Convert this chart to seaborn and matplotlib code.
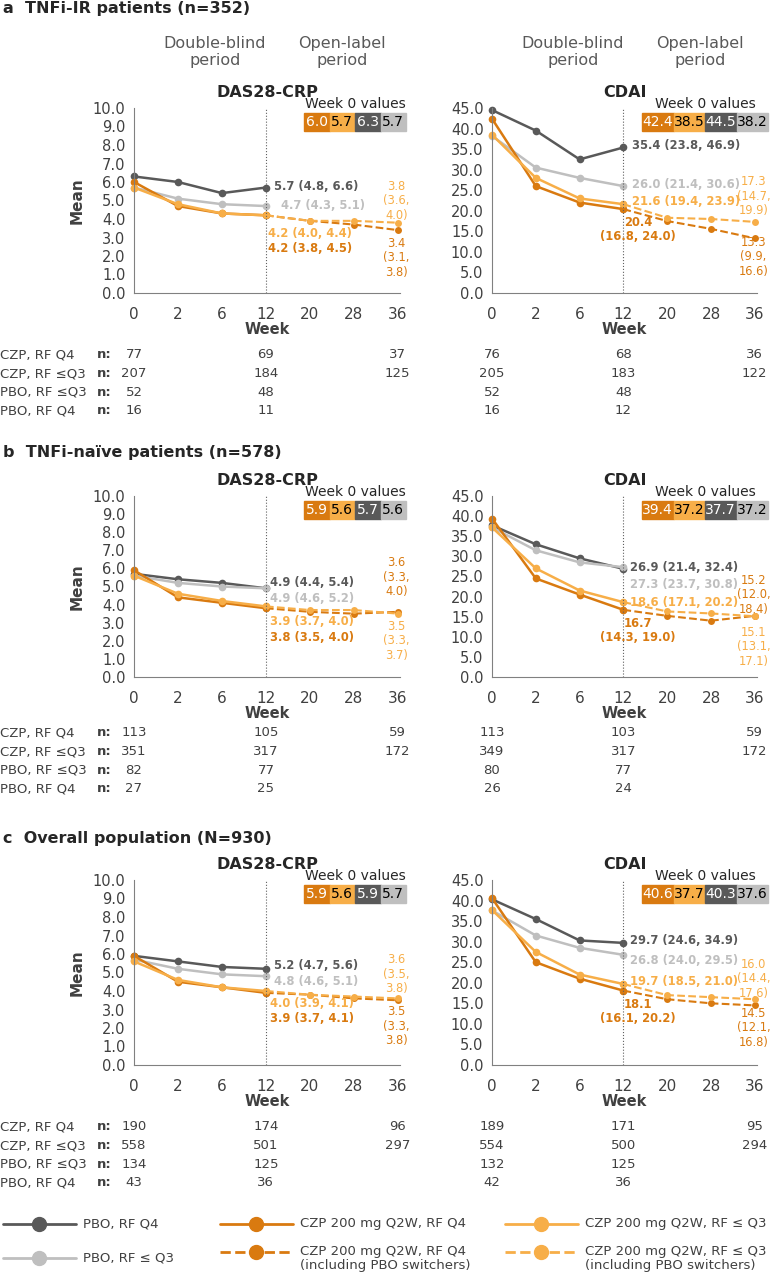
import numpy as np
import pandas as pd
import matplotlib
matplotlib.use("Agg")
import matplotlib.pyplot as plt
import matplotlib.transforms as mtransforms
from matplotlib.lines import Line2D
import seaborn as sns

sns.set_style("white")
plt.rcParams['font.family'] = ['DejaVu Sans']

weeks = [0, 2, 6, 12, 20, 28, 36]
dbl_weeks = [0, 2, 6, 12]
ol_weeks = [12, 20, 28, 36]

C_PQ4 = "#595959"
C_PQ3 = "#BFBFBF"
C_CQ4 = "#D97A10"
C_CQ3 = "#F7AE48"
TXT = "#404040"

# ---- data: mean values ----
a_das = dict(pq4=[6.3, 6.0, 5.4, 5.7], pq3=[5.7, 5.1, 4.8, 4.7],
             cq4=[6.0, 4.7, 4.3, 4.2], cq4_ol=[4.2, 3.9, 3.7, 3.4],
             cq3=[5.7, 4.8, 4.3, 4.2], cq3_ol=[4.2, 3.9, 3.9, 3.8])
a_cdai = dict(pq4=[44.5, 39.5, 32.5, 35.4], pq3=[38.2, 30.5, 28.0, 26.0],
              cq4=[42.4, 26.0, 22.0, 20.4], cq4_ol=[20.4, 17.5, 15.6, 13.3],
              cq3=[38.5, 28.0, 23.0, 21.6], cq3_ol=[21.6, 18.3, 18.0, 17.3])
b_das = dict(pq4=[5.7, 5.4, 5.2, 4.9], pq3=[5.6, 5.2, 5.0, 4.9],
             cq4=[5.9, 4.4, 4.1, 3.8], cq4_ol=[3.8, 3.6, 3.5, 3.6],
             cq3=[5.6, 4.6, 4.2, 3.9], cq3_ol=[3.9, 3.7, 3.7, 3.5])
b_cdai = dict(pq4=[37.7, 33.0, 29.5, 26.9], pq3=[37.2, 31.5, 28.5, 27.3],
              cq4=[39.4, 24.5, 20.5, 16.7], cq4_ol=[16.7, 15.2, 14.0, 15.2],
              cq3=[37.2, 27.0, 21.5, 18.6], cq3_ol=[18.6, 16.3, 15.8, 15.1])
c_das = dict(pq4=[5.9, 5.6, 5.3, 5.2], pq3=[5.7, 5.2, 4.9, 4.8],
             cq4=[5.9, 4.5, 4.2, 3.9], cq4_ol=[3.9, 3.8, 3.6, 3.5],
             cq3=[5.6, 4.6, 4.2, 4.0], cq3_ol=[4.0, 3.8, 3.7, 3.6])
c_cdai = dict(pq4=[40.3, 35.5, 30.3, 29.7], pq3=[37.6, 31.5, 28.5, 26.8],
              cq4=[40.6, 25.0, 21.0, 18.1], cq4_ol=[18.1, 16.0, 15.0, 14.5],
              cq3=[37.7, 27.5, 22.0, 19.7], cq3_ol=[19.7, 17.0, 16.5, 16.0])

# week 0 boxes (CZP Q4, CZP <=Q3, PBO Q4, PBO <=Q3)
w0 = {"a_das": ["6.0", "5.7", "6.3", "5.7"], "a_cdai": ["42.4", "38.5", "44.5", "38.2"],
      "b_das": ["5.9", "5.6", "5.7", "5.6"], "b_cdai": ["39.4", "37.2", "37.7", "37.2"],
      "c_das": ["5.9", "5.6", "5.9", "5.7"], "c_cdai": ["40.6", "37.7", "40.3", "37.6"]}

# endpoint labels: (x index, y, text, color, bold, ha)
labels = {
 "a_das": [(3.18, 5.75, "5.7 (4.8, 6.6)", C_PQ4, True, "left"),
           (3.35, 4.75, "4.7 (4.3, 5.1)", C_PQ3, True, "left"),
           (3.05, 3.2, "4.2 (4.0, 4.4)", C_CQ3, True, "left"),
           (3.05, 2.4, "4.2 (3.8, 4.5)", C_CQ4, True, "left"),
           (5.97, 5.0, "3.8\n(3.6,\n4.0)", C_CQ3, False, "center"),
           (5.97, 1.9, "3.4\n(3.1,\n3.8)", C_CQ4, False, "center")],
 "a_cdai": [(3.2, 35.8, "35.4 (23.8, 46.9)", C_PQ4, True, "left"),
            (3.2, 26.4, "26.0 (21.4, 30.6)", C_PQ3, True, "left"),
            (3.2, 22.3, "21.6 (19.4, 23.9)", C_CQ3, True, "left"),
            (3.33, 15.5, "20.4\n(16.8, 24.0)", C_CQ4, True, "center"),
            (5.97, 23.5, "17.3\n(14.7,\n19.9)", C_CQ3, False, "center"),
            (5.97, 8.8, "13.3\n(9.9,\n16.6)", C_CQ4, False, "center")],
 "b_das": [(3.1, 5.2, "4.9 (4.4, 5.4)", C_PQ4, True, "left"),
           (3.1, 4.35, "4.9 (4.6, 5.2)", C_PQ3, True, "left"),
           (3.1, 3.05, "3.9 (3.7, 4.0)", C_CQ3, True, "left"),
           (3.1, 2.2, "3.8 (3.5, 4.0)", C_CQ4, True, "left"),
           (5.97, 5.5, "3.6\n(3.3,\n4.0)", C_CQ4, False, "center"),
           (5.97, 2.0, "3.5\n(3.3,\n3.7)", C_CQ3, False, "center")],
 "b_cdai": [(3.15, 27.3, "26.9 (21.4, 32.4)", C_PQ4, True, "left"),
            (3.15, 23.0, "27.3 (23.7, 30.8)", C_PQ3, True, "left"),
            (3.15, 18.6, "18.6 (17.1, 20.2)", C_CQ3, True, "left"),
            (3.33, 11.5, "16.7\n(14.3, 19.0)", C_CQ4, True, "center"),
            (5.97, 20.5, "15.2\n(12.0,\n18.4)", C_CQ4, False, "center"),
            (5.97, 7.5, "15.1\n(13.1,\n17.1)", C_CQ3, False, "center")],
 "c_das": [(3.18, 5.4, "5.2 (4.7, 5.6)", C_PQ4, True, "left"),
           (3.18, 4.5, "4.8 (4.6, 5.1)", C_PQ3, True, "left"),
           (3.1, 3.3, "4.0 (3.9, 4.1)", C_CQ3, True, "left"),
           (3.1, 2.5, "3.9 (3.7, 4.1)", C_CQ4, True, "left"),
           (5.97, 4.9, "3.6\n(3.5,\n3.8)", C_CQ3, False, "center"),
           (5.97, 2.1, "3.5\n(3.3,\n3.8)", C_CQ4, False, "center")],
 "c_cdai": [(3.15, 30.2, "29.7 (24.6, 34.9)", C_PQ4, True, "left"),
            (3.15, 25.5, "26.8 (24.0, 29.5)", C_PQ3, True, "left"),
            (3.15, 20.2, "19.7 (18.5, 21.0)", C_CQ3, True, "left"),
            (3.33, 13.0, "18.1\n(16.1, 20.2)", C_CQ4, True, "center"),
            (5.97, 21.0, "16.0\n(14.4,\n17.6)", C_CQ3, False, "center"),
            (5.97, 9.0, "14.5\n(12.1,\n16.8)", C_CQ4, False, "center")],
}

row_names = ["CZP, RF Q4", "CZP, RF \u2264Q3", "PBO, RF \u2264Q3", "PBO, RF Q4"]
n_vals = {
 "a_das": [[77, 69, 37], [207, 184, 125], [52, 48], [16, 11]],
 "a_cdai": [[76, 68, 36], [205, 183, 122], [52, 48], [16, 12]],
 "b_das": [[113, 105, 59], [351, 317, 172], [82, 77], [27, 25]],
 "b_cdai": [[113, 103, 59], [349, 317, 172], [80, 77], [26, 24]],
 "c_das": [[190, 174, 96], [558, 501, 297], [134, 125], [43, 36]],
 "c_cdai": [[189, 171, 95], [554, 500, 294], [132, 125], [42, 36]],
}
n_pos = [0, 3, 6]

W, H = 771, 1280
fig = plt.figure(figsize=(W / 100, H / 100), dpi=100)


def add_ax(x0, x1, ytop, ybot):
    return fig.add_axes([x0 / W, 1 - ybot / H, (x1 - x0) / W, (ybot - ytop) / H])


def draw(ax, d, key, ymax, step, title, box_x, box_w):
    pos = {w: i for i, w in enumerate(weeks)}
    pal = {"pq4": C_PQ4, "pq3": C_PQ3, "cq4": C_CQ4, "cq3": C_CQ3}
    rows = []
    for s in ["pq4", "pq3", "cq4", "cq3"]:
        for w, v in zip(dbl_weeks, d[s]):
            rows.append((s, pos[w], v))
    df = pd.DataFrame(rows, columns=["s", "x", "y"])
    sns.lineplot(data=df, x="x", y="y", hue="s", palette=pal, marker="o",
                 markersize=5.5, markeredgewidth=0, linewidth=1.8, legend=False,
                 ax=ax, clip_on=False)
    rows = []
    for s in ["cq4", "cq3"]:
        for w, v in zip(ol_weeks, d[s + "_ol"]):
            rows.append((s, pos[w], v))
    df2 = pd.DataFrame(rows, columns=["s", "x", "y"])
    sns.lineplot(data=df2, x="x", y="y", hue="s", palette=pal, marker="o",
                 markersize=5, markeredgewidth=0, linewidth=1.5, linestyle="--",
                 legend=False, ax=ax, clip_on=False)
    ax.axvline(3, color="#606060", lw=0.8, ls=":")
    ax.set_xlim(0, 6.05)
    ax.set_ylim(0, ymax)
    yt = np.arange(0, ymax + 0.01, step)
    ax.set_yticks(yt)
    ax.set_yticklabels([f"{v:.1f}" for v in yt], fontsize=10.5, color=TXT)
    ax.set_xticks(range(7))
    ax.set_xticklabels([str(w) for w in weeks], fontsize=11, color=TXT)
    ax.set_xlabel("Week", fontsize=10.5, fontweight="bold", color=TXT, labelpad=0)
    ax.set_ylabel("")
    for sp in ["top", "right"]:
        ax.spines[sp].set_visible(False)
    for sp in ["left", "bottom"]:
        ax.spines[sp].set_color("#808080")
    ax.tick_params(axis="x", length=4, color="#808080", pad=6, direction="out")
    ax.tick_params(axis="y", length=4, color="#808080", pad=2, direction="out")
    ax.set_title(title, fontsize=11.5, fontweight="bold", pad=8)
    for xi, y, t, c, b, ha in labels[key]:
        ax.text(xi, y, t, color=c, fontsize=8.3, fontweight="bold" if b else "normal",
                ha=ha, va="center", linespacing=1.15)
    # week 0 box
    top = ax.get_position().y1
    cols = [C_CQ4, C_CQ3, C_PQ4, C_PQ3]
    tcols = ["white", "black", "white", "black"]
    by = top - 14 / H
    fig.text((box_x + 2 * box_w) / W, top + 4 / H, "Week 0 values", ha="center",
             va="center", fontsize=10)
    for i, (v, c, tc) in enumerate(zip(w0[key], cols, tcols)):
        fig.patches.append(plt.Rectangle(((box_x + i * box_w) / W, by - 9 / H), box_w / W,
                                         18 / H, transform=fig.transFigure, color=c, zorder=1))
        fig.text((box_x + i * box_w + box_w / 2) / W, by, v, ha="center", va="center",
                 fontsize=10, color=tc, zorder=2)


def ntable(ax, key, y_rows, with_labels):
    bt = mtransforms.blended_transform_factory(ax.transData, fig.transFigure)
    for r, (name, vals) in enumerate(zip(row_names, n_vals[key])):
        yy = 1 - y_rows[r] / H
        if with_labels:
            fig.text(0 / W, yy, name, fontsize=9.5, va="center", color=TXT)
            fig.text(97 / W, yy, "n:", fontsize=9.5, va="center", fontweight="bold", color=TXT)
        for p, v in zip(n_pos, vals):
            ax.text(p, yy, str(v), transform=bt, ha="center", va="center", fontsize=9.5,
                    color=TXT)


panels = [
    ("a", "TNFi-IR patients (n=352)", a_das, a_cdai, 8, 108, 293, 355),
    ("b", "TNFi-na\u00efve patients (n=578)", b_das, b_cdai, 453, 496, 677, 733),
    ("c", "Overall population (N=930)", c_das, c_cdai, 838, 880, 1065, 1127),
]
for letter, name, dd, dc, hy, yt, yb, nr in panels:
    fig.text(3 / W, 1 - hy / H, f"{letter}  {name}", fontsize=11.5, fontweight="bold",
             va="center")
    ax1 = add_ax(134, 400, yt, yb)
    draw(ax1, dd, letter + "_das", 10.0, 1.0, "DAS28-CRP", 304, 25.5)
    ax1.set_ylabel("Mean", fontsize=11, fontweight="bold", color=TXT, labelpad=6)
    ax2 = add_ax(492, 757, yt, yb)
    draw(ax2, dc, letter + "_cdai", 45.0, 5.0, "CDAI", 642, 31.5)
    rows_y = [nr, nr + 18.7, nr + 37.4, nr + 56]
    ntable(ax1, letter + "_das", rows_y, True)
    ntable(ax2, letter + "_cdai", rows_y, False)
    if letter == "a":
        for cx in [(215, 342), (573, 700)]:
            fig.text(cx[0] / W, 1 - 52 / H, "Double-blind\nperiod", ha="center", va="center",
                     fontsize=11.5, color="#595959", linespacing=1.1)
            fig.text(cx[1] / W, 1 - 52 / H, "Open-label\nperiod", ha="center", va="center",
                     fontsize=11.5, color="#595959", linespacing=1.1)

# legend
leg = [(C_PQ4, "-", "PBO, RF Q4", 3, 1224), (C_PQ3, "-", "PBO, RF \u2264 Q3", 3, 1258),
       (C_CQ4, "-", "CZP 200 mg Q2W, RF Q4", 220, 1224),
       (C_CQ4, "--", "CZP 200 mg Q2W, RF Q4\n(including PBO switchers)", 220, 1252),
       (C_CQ3, "-", "CZP 200 mg Q2W, RF \u2264 Q3", 505, 1224),
       (C_CQ3, "--", "CZP 200 mg Q2W, RF \u2264 Q3\n(including PBO switchers)", 505, 1252)]
for c, ls, t, x, y in leg:
    yy = 1 - y / H
    fig.add_artist(Line2D([x / W, (x + 73) / W], [yy, yy], color=c, ls=ls, lw=2,
                          transform=fig.transFigure))
    fig.add_artist(Line2D([(x + 36) / W], [yy], color=c, marker="o", markersize=10,
                          transform=fig.transFigure))
    ty = yy - (6 / H if "\n" in t else 0)
    fig.text((x + 80) / W, ty, t, fontsize=9.5, va="center", color=TXT, linespacing=1.1)

fig.savefig("out.png", dpi=100)
